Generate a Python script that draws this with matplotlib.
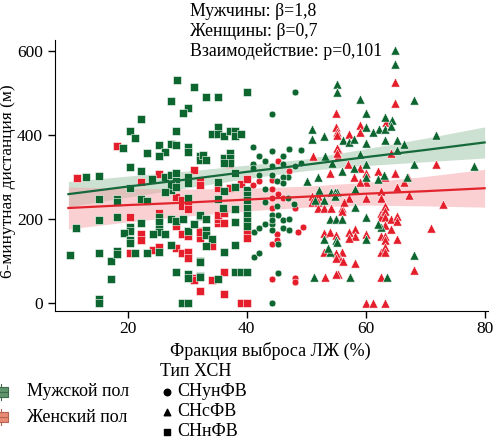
import numpy as np
import matplotlib
matplotlib.use('Agg')
import matplotlib.pyplot as plt
from matplotlib.patches import Rectangle

plt.rcParams['font.family'] = ['Liberation Serif', 'DejaVu Serif']
plt.rcParams['font.size'] = 12

#%% data: (EF %, 6MWT distance m)
male_sq = [(28.2,531),(31.1,514),(27.2,481),(30.1,464),(29.2,451),(22.2,438),(20.3,410),(28.1,410),(21.2,393),
           (27.2,378),(28.1,375),(19.1,369),(30.1,370),(30.1,360),(25.2,377),(23.2,356),(26.2,360),(25.2,350),
           (32.2,350),(32.2,340),(20.3,323),(22.2,313),(12.9,300),(26.2,300),(27.2,305),(28.1,310),(30.1,300),
           (33.2,491),(35.1,490),(40.1,501),(35.1,418),(34.2,401),(35.1,401),(36.2,398),(37.1,409),(38.1,409),
           (38.1,398),(39.1,401),(32.7,352),(33.2,341),(36.2,345),(37.1,358),(37.1,345),(37.1,333),(36.2,333),
           (38.1,310),(15.2,301),(24.1,296),(20.3,273),(27.2,270),(28.1,290),(30.1,285),(27.2,280),(28.1,275),
           (26.2,265),(15.2,248),(18.2,248),(18.2,240),(22.2,248),(23.2,243),(30.1,250),(11.3,178),(15.2,197),
           (18.2,204),(22.2,190),(25.2,205),(25.2,193),(25.2,177),(25.2,170),(20.3,180),(20.3,172),(19.3,167),
           (24.2,163),(26.2,163),(27.2,199),(28.1,194),(29.2,199),(30.1,171),(31.1,187),(32.2,207),(20.3,150),
           (20.3,142),(10.3,114),(15.2,118),(17.2,101),(18.2,124),(18.2,116),(21.2,118),(23.2,118),(25.2,122),
           (27.2,138),(32.2,99),(17.2,58),(28.1,73),(30.1,70),(30.1,59),(32.2,65),(15.2,10),(15.2,0),(29.1,0),
           (30.1,0),(35.2,289),(36.2,267),(38.1,275),(40.1,269),(40.1,257),(40.1,245),(40.1,225),(40.1,210),
           (40.1,194),(40.1,182),(35.2,247),(36.0,225),(38.1,224),(32.1,209),(33.2,201),(38.1,193),(33.2,173),
           (33.2,162),(34.2,153),(33.2,136),(36.2,122),(38.1,138),(32.1,98),(32.1,62),(38.1,74),(39.1,73),
           (35.1,58),(40.1,73)]
female_sq = [(18.2,373),(25.2,306),(11.4,298),(31.1,316),(22.2,289),(32.2,290),(28.1,252),(29.1,245),(29.1,230),
             (30.1,236),(30.1,224),(20.3,204),(25.2,215),(28.1,182),(22.2,163),(22.2,151),(29.1,163),(30.1,160),
             (32.2,171),(32.2,155),(20.3,118),(24.2,126),(25.2,134),(28.1,132),(29.1,120),(30.1,121),(30.1,106),
             (31.1,59),(32.2,28),(32.1,281),(35.1,273),(37.1,273),(39.1,283),(37.0,330),(35.1,190),(35.1,200),
             (35.1,210),(36.2,215),(36.2,190),(40.1,170),(40.1,154),(32.1,170),(34.2,136),(36.2,73),(34.2,55),
             (31.1,55),(36.2,22),(39.1,0),(40.1,0),(40.1,295),(40.1,236)]
male_ci = [(48.1,501),(44.2,450),(41.1,372),(42.1,349),(44.2,361),(47.1,366),(49.2,364),(46.1,350),(43.1,337),
           (44.2,325),(46.1,330),(48.1,325),(49.2,333),(41.1,330),(41.1,320),(42.1,305),(44.2,305),(47.0,300),
           (43.0,271),(45.1,290),(46.1,300),(46.1,285),(41.2,170),(42.1,178),(43.1,187),(44.2,187),(44.2,174),
           (44.2,209),(44.2,198),(45.2,209),(46.1,198),(46.1,178),(47.1,200),(47.1,174),(45.2,140),(41.2,110),
           (42.1,119),(45.2,71),(44.2,0),(48.0,235),(47.0,250),(45.1,230),(43.1,240)]
female_ci = [(45.2,338),(41.1,325),(44.2,293),(44.2,272),(44.2,249),(44.2,225),(45.2,260),(48.1,225),(48.6,170),
             (44.2,140),(44.2,58),(48.1,60),(48.1,50),(45.1,165),(45.1,150),(46.1,250),(41.1,280),(42.1,290),
             (47.1,315),(49.5,180)]
male_tr = [(65.0,602),(65.0,569),(68.1,483),(59.1,485),(60.1,453),(55.2,522),(55.2,503),(63.3,443),(64.4,436),
           (60.1,418),(62.2,414),(61.2,408),(63.2,414),(64.3,422),(51.0,414),(51.0,390),(53.0,397),(56.2,388),
           (57.2,384),(58.0,390),(60.1,380),(63.3,388),(65.2,388),(66.4,378),(65.3,364),(71.9,399),(59.1,354),
           (68.1,330),(78.2,325),(53.2,350),(54.3,334),(58.0,320),(60.0,330),(63.0,305),(67.0,300),(52.1,268),
           (54.1,264),(55.1,264),(53.0,245),(54.0,200),(55.0,200),(56.0,200),(53.0,153),(55.0,149),(54.0,121),
           (58.2,271),(58.2,229),(54.8,265),(54.8,254),(60.1,204),(62.5,181),(60.1,153),(55.1,146),(68.1,114),
           (57.3,62),(63.6,62),(51.3,62),(50.1,290),(52.0,300),(56.0,315),(60.0,300),(62.1,295),(51.5,245),
           (62.1,188),(53.6,131)]
female_tr = [(65.0,525),(65.0,476),(55.0,451),(63.4,431),(59.0,424),(57.2,402),(59.1,408),(55.0,418),(64.3,358),
             (55.4,366),(55.4,350),(71.9,330),(51.1,350),(55.1,408),(55.2,400),(55.2,368),(55.2,357),(53.2,62),
             (55.4,68),(51.0,255),(51.0,240),(52.0,255),(52.0,240),(52.0,225),(53.0,225),(54.1,225),(56.1,225),
             (53.0,167),(54.0,170),(55.0,161),(53.0,121),(56.0,121),(55.5,110),(63.2,300),(67.2,300),(60.1,289),
             (59.0,289),(65.3,275),(66.4,288),(62.5,267),(62.5,249),(60.1,249),(57.2,249),(56.3,241),(67.3,257),
             (73.0,235),(56.0,219),(55.0,201),(62.5,215),(62.5,204),(63.3,230),(63.3,218),(63.3,204),(64.3,200),
             (65.3,208),(65.3,196),(63.3,186),(64.3,175),(58.2,175),(58.2,160),(57.2,168),(57.2,154),(60.1,165),
             (62.5,160),(63.3,160),(63.3,150),(65.3,152),(71.0,179),(62.5,122),(63.3,133),(63.3,122),(55.0,118),
             (55.0,107),(56.2,100),(58.2,95),(68.1,79),(55.0,69),(57.3,62),(62.5,62),(60.1,0),(61.2,0),(63.2,0),
             (57.0,330),(59.0,320),(62.0,315),(65.0,310),(58.0,300),(60.0,310),(54.0,310)]

# regression lines and CI bands
fit_x = [10, 20, 30, 40, 50, 60, 70, 80]
male_fit = [259, 277, 294, 312, 329, 347, 364, 382]
male_hw = [30, 25, 20, 16, 14, 20, 28, 37]
female_fit = [226, 233, 239, 246, 253, 260, 266, 273]
female_hw = [50, 40, 32, 27, 25, 27, 35, 45]

annot = ['Мужчины: β=1,8', 'Женщины: β=0,7', 'Взаимодействие: p=0,101']

GREEN = '#0d6630'
RED = '#e41e2b'

#%% plot
fig = plt.figure(figsize=(4.93, 4.43), dpi=100)
ax = fig.add_axes([0.111, 0.298, 0.878, 0.612])

fx = np.array(fit_x)
ax.fill_between(fx, np.array(male_fit) - male_hw, np.array(male_fit) + male_hw,
                color='#9cc4a6', alpha=0.5, lw=0, zorder=1)
ax.fill_between(fx, np.array(female_fit) - female_hw, np.array(female_fit) + female_hw,
                color='#f6a3a8', alpha=0.5, lw=0, zorder=1)

def scat(pts, color, marker, size):
    a = np.array(pts)
    ax.scatter(a[:, 0], a[:, 1], s=size, c=color, marker=marker,
               edgecolors='#ffffff', linewidths=0.4, zorder=2)

scat(female_sq, RED, 's', 30)
scat(male_sq, GREEN, 's', 30)
scat(female_ci, RED, 'o', 24)
scat(male_ci, GREEN, 'o', 24)
scat(female_tr, RED, '^', 44)
scat(male_tr, GREEN, '^', 44)

ax.plot(fx, male_fit, color='#15693a', lw=1.6, zorder=3)
ax.plot(fx, female_fit, color='#e2242c', lw=1.6, zorder=3)

ax.set_xlim(7.7, 80.5)
ax.set_ylim(-19, 626)
ax.set_xticks([20, 40, 60, 80])
ax.set_yticks([0, 200, 400, 600])
ax.spines['top'].set_visible(False)
ax.spines['right'].set_visible(False)
ax.tick_params(direction='out', length=5, width=1, labelsize=12.5)
ax.tick_params(axis='x', pad=2)
ax.set_xlabel('Фракция выброса ЛЖ (%)', fontsize=13)
ax.set_ylabel('6-минутная дистанция (м)', fontsize=12.5)
ax.xaxis.set_label_coords(0.497, -0.115)
ax.yaxis.set_label_coords(-0.089, 0.48)

for i, t in enumerate(annot):
    fig.text(190 / 493, 1 - (11 + 20.5 * i) / 443, t, fontsize=12.8, va='center', ha='left')

# legends drawn in pixel coordinates
lg = fig.add_axes([0, 0, 1, 1])
lg.set_xlim(0, 493)
lg.set_ylim(443, 0)
lg.axis('off')

sex_labels = ['Мужской пол', 'Женский пол']
sex_colors = ['#5f946c', '#ea8a74']
sex_edges = ['#3e6b49', '#b3634f']
for i, (lab, c, e) in enumerate(zip(sex_labels, sex_colors, sex_edges)):
    yc = 392 + 25 * i
    lg.add_patch(Rectangle((-6, yc - 5), 14, 10, facecolor=c, edgecolor=e, lw=0.8))
    lg.plot([-6, 8], [yc, yc], color=e, lw=0.8)
    lg.plot([1, 1], [yc - 8, yc - 5], color=e, lw=0.8)
    lg.plot([1, 1], [yc + 5, yc + 8], color=e, lw=0.8)
    lg.text(27, yc, lab, fontsize=13, va='center', ha='left')

hf_title = 'Тип ХСН'
hf_labels = ['СНунФВ', 'СНсФВ', 'СНнФВ']
hf_markers = ['o', '^', 's']
lg.text(160, 372, hf_title, fontsize=13, va='center', ha='left')
for i, (lab, m) in enumerate(zip(hf_labels, hf_markers)):
    yc = 392 + 20 * i
    lg.scatter([167], [yc], marker=m, s=22, c='black')
    lg.text(177, yc, lab, fontsize=13, va='center', ha='left')

plt.savefig('out.png', dpi=100)
